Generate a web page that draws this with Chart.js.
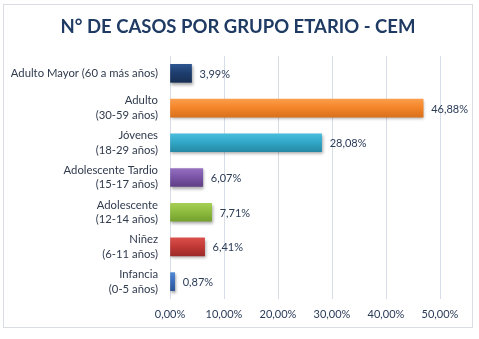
<!DOCTYPE html>
<html>
<head>
<meta charset="utf-8">
<script src="https://cdn.jsdelivr.net/npm/chart.js@4.4.1/dist/chart.umd.min.js"></script>
<style>
  html, body { margin: 0; padding: 0; background: #ffffff; }
  #wrap { width: 479px; height: 339px; }
</style>
</head>
<body>
<div id="wrap"><canvas id="chart" width="479" height="339"></canvas></div>
<script>
var titleText = "N° DE CASOS POR GRUPO ETARIO - CEM";
var categories = [
  "Adulto Mayor (60 a más años)",
  ["Adulto", "(30-59 años)"],
  ["Jóvenes", "(18-29 años)"],
  ["Adolescente Tardio", "(15-17 años)"],
  ["Adolescente", "(12-14 años)"],
  ["Niñez", "(6-11 años)"],
  ["Infancia", "(0-5 años)"]
];
var percentages = [3.99, 46.88, 28.08, 6.07, 7.71, 6.41, 0.87];
var tickValues = [0, 10, 20, 30, 40, 50];

// top / middle / bottom shade for each bar
var barShades = [
  ["#2d5590", "#1f3f70", "#172f55"],
  ["#fa9d4c", "#f5862a", "#d9711c"],
  ["#48bcdb", "#33a8c8", "#2689a5"],
  ["#9570c0", "#7c56a8", "#5f3f86"],
  ["#a6cf55", "#8fbd3f", "#74a02d"],
  ["#d9504b", "#c43a37", "#9c2a28"],
  ["#5089d4", "#3b6fbd", "#2b5597"]
];

(function () {
  var fmt = function (v) {
    return v.toFixed(2).replace(".", ",") + "%";
  };

  function barGradient(context) {
    var chart = context.chart;
    var shades = barShades[context.dataIndex] || barShades[0];
    if (!chart.chartArea || !chart.scales.y) {
      return shades[1];
    }
    var cy = chart.scales.y.getPixelForValue(context.dataIndex);
    var g = chart.ctx.createLinearGradient(0, cy - 9, 0, cy + 9);
    g.addColorStop(0, shades[0]);
    g.addColorStop(0.45, shades[1]);
    g.addColorStop(1, shades[2]);
    return g;
  }

  var frame = {
    id: "frame",
    beforeDraw: function (chart) {
      var ctx = chart.ctx;
      ctx.save();
      ctx.fillStyle = "#ffffff";
      ctx.fillRect(0, 0, chart.width, chart.height);
      ctx.strokeStyle = "#d9dde2";
      ctx.lineWidth = 1;
      ctx.strokeRect(3.5, 4.5, 469, 323);
      // title centred on the whole frame
      ctx.font = "bold 18.5px Lato";
      ctx.fillStyle = "#1f3b64";
      ctx.textAlign = "center";
      ctx.textBaseline = "middle";
      ctx.fillText(titleText, 238, 27);
      ctx.restore();
    },
    beforeDatasetsDraw: function (chart) {
      var ctx = chart.ctx;
      ctx.save();
      ctx.shadowColor = "rgba(0,0,0,0.35)";
      ctx.shadowBlur = 3;
      ctx.shadowOffsetX = 1;
      ctx.shadowOffsetY = 2;
    },
    afterDatasetsDraw: function (chart) {
      var ctx = chart.ctx;
      ctx.restore();
      // value labels
      var meta = chart.getDatasetMeta(0);
      ctx.save();
      ctx.font = "11px Lato";
      ctx.fillStyle = "#2a3b58";
      ctx.textAlign = "left";
      ctx.textBaseline = "middle";
      meta.data.forEach(function (bar, i) {
        ctx.fillText(fmt(percentages[i]), bar.x + 8, bar.y + 1);
      });
      ctx.restore();
    }
  };

  new Chart(document.getElementById("chart"), {
    type: "bar",
    data: {
      labels: categories,
      datasets: [
        {
          data: percentages,
          backgroundColor: barGradient,
          borderWidth: 0,
          barThickness: 18
        }
      ]
    },
    options: {
      indexAxis: "y",
      responsive: false,
      animation: false,
      layout: { padding: { left: 4, right: 39, top: 56, bottom: 0 } },
      plugins: {
        legend: { display: false },
        tooltip: { enabled: false },
        title: { display: false }
      },
      scales: {
        x: {
          min: 0,
          max: 50,
          afterBuildTicks: function (scale) {
            scale.ticks = tickValues.map(function (v) {
              return { value: v };
            });
          },
          afterFit: function (scale) {
            scale.height = 40;
          },
          grid: { color: "#d6dde6", drawTicks: false },
          border: { display: false },
          ticks: {
            padding: 9,
            color: "#2a3b58",
            font: { family: "Lato", size: 11 },
            callback: function (v) {
              return fmt(v);
            }
          }
        },
        y: {
          afterFit: function (scale) {
            scale.width = 166;
          },
          grid: { display: false, drawTicks: false },
          border: { display: false },
          ticks: {
            padding: 12,
            color: "#2f3a4d",
            font: { family: "Lato", size: 11.3, lineHeight: 1.3 }
          }
        }
      }
    },
    plugins: [frame]
  });
})();
</script>
</body>
</html>
